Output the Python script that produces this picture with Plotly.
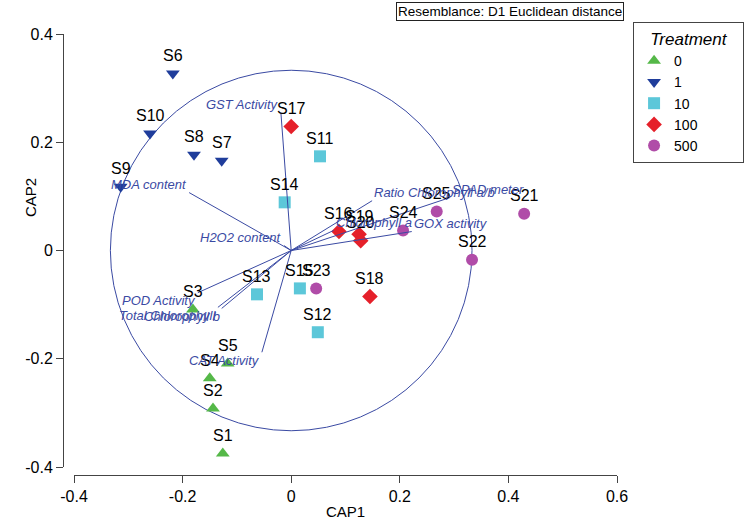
import plotly.graph_objects as go

# ---- data ----
sample_names = [f"S{i}" for i in range(1, 26)]
cap1 = [-0.126, -0.144, -0.181, -0.150, -0.117,
        -0.218, -0.128, -0.179, -0.314, -0.260,
        0.053, 0.049, -0.063, -0.012, 0.016,
        0.088, 0.000, 0.145, 0.125, 0.128,
        0.429, 0.333, 0.046, 0.206, 0.268]
cap2 = [-0.375, -0.292, -0.109, -0.236, -0.209,
        0.327, 0.166, 0.177, 0.118, 0.216,
        0.174, -0.151, -0.081, 0.089, -0.070,
        0.035, 0.229, -0.085, 0.030, 0.018,
        0.068, -0.017, -0.070, 0.037, 0.072]
treatment = ["0"] * 5 + ["1"] * 5 + ["10"] * 5 + ["100"] * 5 + ["500"] * 5
groups = ["0", "1", "10", "100", "500"]

vector_names = ["GST Activity", "MDA content", "H2O2 content", "POD Activity",
                "Total Chlorophyll", "Chlorophyll b", "CAT Activity",
                "Ratio Chlorophyll a/b", "SPAD meter", "Chlorophyll a", "GOX activity"]
vector_x = [-0.019, -0.188, -0.013, -0.172, -0.135, -0.128, -0.054, 0.149, 0.293, 0.078, 0.222]
vector_y = [0.255, 0.107, 0.009, -0.078, -0.105, -0.107, -0.188, 0.092, 0.098, 0.037, 0.035]

circle_radius = 0.333
x_ticks = [-0.4, -0.2, 0, 0.2, 0.4, 0.6]
y_ticks = [-0.4, -0.2, 0, 0.2, 0.4]

# ---- styles ----
group_style = {
    "0": dict(symbol="triangle-up", color="#55b848"),
    "1": dict(symbol="triangle-down", color="#1f3d9b"),
    "10": dict(symbol="square", color="#5cc7d9"),
    "100": dict(symbol="diamond", color="#e5202a"),
    "500": dict(symbol="circle", color="#b04ca8"),
}
vec_color = "#3a4aa3"
font_fam = "Liberation Sans, Arial, sans-serif"

fig = go.Figure()

for g in groups:
    xs = [x for x, t in zip(cap1, treatment) if t == g]
    ys = [y for y, t in zip(cap2, treatment) if t == g]
    st = group_style[g]
    fig.add_trace(go.Scatter(
        x=xs, y=ys, mode="markers", name=g,
        marker=dict(symbol=st["symbol"], color=st["color"], size=12, line=dict(width=0)),
        cliponaxis=False,
    ))

# vectors
for name, vx, vy in zip(vector_names, vector_x, vector_y):
    fig.add_trace(go.Scatter(x=[0, vx], y=[0, vy], mode="lines",
                             line=dict(color=vec_color, width=1),
                             showlegend=False, hoverinfo="skip", cliponaxis=False))

annotations = []
for name, x, y in zip(sample_names, cap1, cap2):
    annotations.append(dict(x=x, y=y, text=name, showarrow=False, yshift=18,
                            font=dict(family=font_fam, size=16, color="black")))
for name, vx, vy in zip(vector_names, vector_x, vector_y):
    annotations.append(dict(x=vx, y=vy, text=name, showarrow=False,
                            xanchor="right" if vx < 0 else "left",
                            yshift=8 if vy >= 0 else -8,
                            font=dict(family=font_fam, size=13, color=vec_color, style="italic")))

annotations.append(dict(xref="paper", yref="paper", x=1.0126, y=1.072, xanchor="right", yanchor="top",
                        text="Resemblance: D1 Euclidean distance", showarrow=False,
                        bordercolor="#222", borderwidth=1, borderpad=1, bgcolor="white",
                        font=dict(family=font_fam, size=13.5, color="black")))
# y-axis title
annotations.append(dict(xref="paper", yref="paper", x=(30 - 63) / 554, y=(475 - 198) / 441,
                        xanchor="center", yanchor="middle",
                        text="CAP2", textangle=-90, showarrow=False,
                        font=dict(family=font_fam, size=15, color="black")))

fig.add_shape(type="circle", xref="x", yref="y",
              x0=-circle_radius, x1=circle_radius, y0=-circle_radius, y1=circle_radius,
              line=dict(color=vec_color, width=1), layer="below")

axis_common = dict(showgrid=False, zeroline=False, showline=True, linecolor="#444", linewidth=1,
                   ticks="outside", ticklen=7, tickcolor="#444", tickwidth=1,
                   tickfont=dict(family=font_fam, size=16, color="black"),
                   anchor="free", position=0)

pad = "&nbsp;" * 3
fig.update_layout(
    width=750, height=520,
    margin=dict(l=63, r=133, t=34, b=45, autoexpand=False),
    plot_bgcolor="white", paper_bgcolor="white",
    xaxis=dict(range=[-0.4, 0.6], tickvals=x_ticks, ticktext=["-0.4", "-0.2", "0", "0.2", "0.4", "0.6"],
               domain=[11 / 554, 1],
               title=dict(text="CAP1", font=dict(family=font_fam, size=15, color="black"), standoff=6),
               **axis_common),
    yaxis=dict(range=[-0.4, 0.4], tickvals=y_ticks, ticktext=["-0.4", "-0.2", "0", "0.2", "0.4"],
               domain=[8 / 441, 1],
               **axis_common),
    legend=dict(x=1.029, y=1.027, xanchor="left", yanchor="top",
                bordercolor="#444", borderwidth=1, bgcolor="white",
                font=dict(family=font_fam, size=14, color="black"),
                title=dict(text=pad + "Treatment" + pad,
                           font=dict(family=font_fam, size=17, color="black", style="italic")),
                tracegroupgap=0, itemwidth=30),
    annotations=annotations,
    showlegend=True,
)

fig.write_html("out.html", config={"displayModeBar": False},
               post_script="document.body.style.margin='0';")
